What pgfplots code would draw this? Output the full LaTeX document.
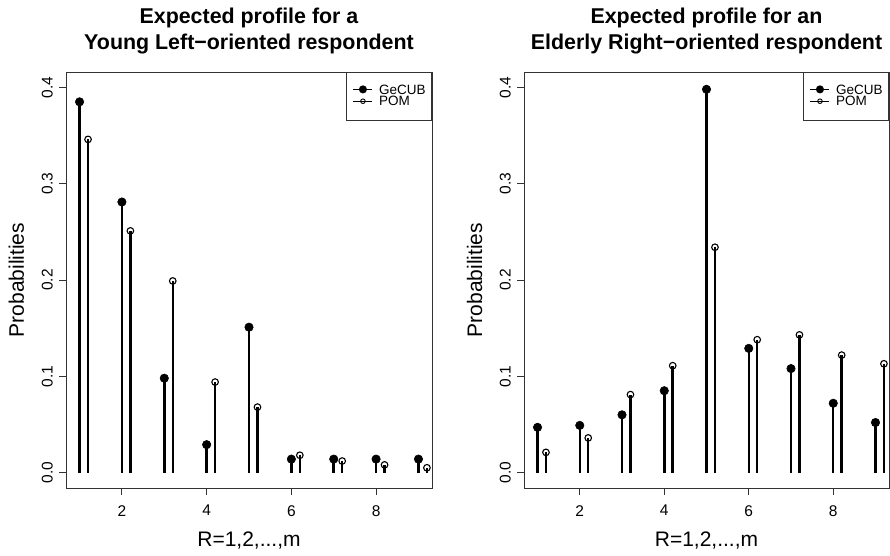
\documentclass[border=0pt]{standalone}
\usepackage{fontspec}
\setmainfont{Liberation Sans}
\usepackage{pgfplots}
\pgfplotsset{compat=1.18}

\pgfplotsset{
  rplot/.style={
    scale only axis, anchor=south west,
    height=416bp,
    xmin=0.68, xmax=9.32, ymin=-0.016, ymax=0.416,
    axis line style={black!80, line width=0.9bp},
    every tick/.style={black!80, line width=0.9bp},
    tick align=outside, major tick length=7bp, tick pos=left,
    xtick={2,4,6,8}, xticklabels={2,4,6,8},
    ytick={0,0.1,0.2,0.3,0.4}, yticklabels={0.0,0.1,0.2,0.3,0.4},
    xticklabel style={anchor=north, inner sep=0pt, font=\fontsize{15.5bp}{16bp}\selectfont},
    yticklabel style={rotate=90, anchor=south, inner sep=0pt, font=\fontsize{15.5bp}{16bp}\selectfont},
    xticklabel shift=10bp, yticklabel shift=6bp,
    xlabel={R=1,2,...,m}, ylabel={Probabilities},
    label style={font=\fontsize{21bp}{24bp}\selectfont},
    xlabel style={at={(axis description cs:0.5,-0.1411)}, anchor=base},
    ylabel style={at={(axis description cs:-0.1148,0.5)}, anchor=base},
    title style={at={(axis description cs:0.5,1)}, anchor=north, yshift=58bp,
      align=center, inner sep=0pt, font=\fontsize{21.4bp}{26bp}\selectfont\bfseries},
    legend style={at={(1,1)}, anchor=north east, draw=black!80, line width=0.9bp,
      font=\fontsize{13.5bp}{14bp}\selectfont, inner xsep=6bp, inner ysep=6bp,
      row sep=2.4bp, column sep=6bp, nodes={inner sep=0pt, text depth=0pt}},
    legend cell align=left,
  },
  gecub/.style={ycomb, black, line width=2.5bp, mark=*, mark size=4.2bp,
    mark options={line width=0.6bp},
    legend image code/.code={
      \path (0bp,9.7bp);
      \draw[line width=1.2bp] (0bp,0bp) -- (19bp,0bp);
      \fill (9.5bp,0bp) circle (2.7bp);}},
  pom/.style={ycomb, black, line width=2.5bp, mark=o, mark size=3.3bp,
    mark options={line width=1.1bp},
    legend image code/.code={
      \path (0bp,-12bp);
      \draw[line width=1.2bp] (0bp,0bp) -- (19bp,0bp);
      \draw[line width=0.9bp] (9.5bp,0bp) circle (2.3bp);}},
}

\begin{document}
\begin{tikzpicture}
\useasboundingbox (0,0) rectangle (890bp,556bp);

\begin{axis}[rplot, at={(66bp,68bp)}, width=366bp,
  title={Expected profile for a\\Young Left−oriented respondent}]
\addplot[gecub] coordinates {(1,0.385) (2,0.281) (3,0.098) (4,0.029) (5,0.151)
  (6,0.014) (7,0.014) (8,0.014) (9,0.014)};
\addlegendentry{GeCUB}
\addplot[pom] coordinates {(1.2,0.346) (2.2,0.251) (3.2,0.199) (4.2,0.094) (5.2,0.068)
  (6.2,0.018) (7.2,0.012) (8.2,0.008) (9.2,0.005)};
\addlegendentry{POM}
\end{axis}

\begin{axis}[rplot, at={(524bp,68bp)}, width=365bp,
  title={Expected profile for an\\Elderly Right−oriented respondent}]
\addplot[gecub] coordinates {(1,0.047) (2,0.049) (3,0.060) (4,0.085) (5,0.398)
  (6,0.129) (7,0.108) (8,0.072) (9,0.052)};
\addlegendentry{GeCUB}
\addplot[pom] coordinates {(1.2,0.021) (2.2,0.036) (3.2,0.081) (4.2,0.111) (5.2,0.234)
  (6.2,0.138) (7.2,0.143) (8.2,0.122) (9.2,0.113)};
\addlegendentry{POM}
\end{axis}
\end{tikzpicture}
\end{document}
